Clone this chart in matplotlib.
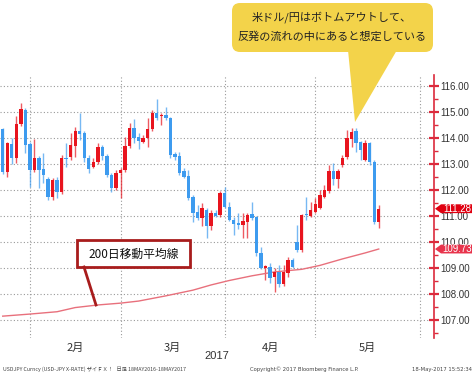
import matplotlib
matplotlib.use('Agg')
import matplotlib.pyplot as plt
from matplotlib.patches import FancyBboxPatch, Polygon, Rectangle
from matplotlib.ticker import MultipleLocator, FixedLocator
from matplotlib.transforms import blended_transform_factory

# daily USD/JPY candles, index = trading day
opens = [114.33, 112.70, 113.77, 113.22, 114.53, 115.08, 113.77, 112.77, 113.22, 112.80,
         112.41, 111.72, 112.38, 111.93, 113.24, 113.28, 113.69, 114.28, 114.18, 113.22,
         112.90, 113.09, 113.67, 113.31, 112.58, 112.09, 112.67, 112.77, 113.69, 114.40,
         114.05, 113.86, 113.99, 114.33, 114.97, 114.86, 114.88, 114.76, 113.37, 113.31,
         112.73, 112.54, 111.72, 111.14, 110.91, 111.23, 110.62, 111.13, 111.04, 111.90,
         111.36, 110.85, 110.74, 110.65, 110.78, 111.08, 110.97, 109.57, 108.99, 109.05,
         108.67, 108.86, 108.38, 108.82, 109.31, 110.01, 109.69, 111.06, 111.00, 111.17,
         111.30, 111.74, 111.96, 112.73, 112.41, 112.96, 113.26, 113.95, 114.28, 113.86,
         113.15, 113.80, 113.09, 110.78]
closes = [112.70, 113.80, 113.22, 114.53, 115.10, 113.73, 112.77, 113.22, 112.77, 112.58,
          111.72, 112.38, 111.93, 113.22, 113.18, 113.73, 114.28, 114.14, 113.22, 112.80,
          113.09, 113.67, 113.31, 112.58, 112.07, 112.67, 112.77, 113.69, 114.40, 113.99,
          113.88, 113.99, 114.33, 114.97, 114.78, 114.90, 114.76, 113.35, 113.28, 112.67,
          112.51, 111.68, 111.13, 110.91, 111.30, 110.62, 111.10, 111.00, 111.90, 111.36,
          110.85, 110.69, 110.65, 110.82, 111.04, 110.91, 109.57, 108.99, 109.08, 108.60,
          108.86, 108.38, 108.86, 109.31, 109.05, 109.69, 111.04, 111.02, 111.23, 111.46,
          111.81, 112.00, 112.74, 112.41, 112.73, 113.24, 113.99, 114.24, 113.82, 113.54,
          113.80, 113.09, 110.78, 111.28]
highs = [114.40, 113.85, 113.99, 114.85, 115.36, 115.15, 113.85, 113.95, 113.30, 113.41,
         112.50, 112.45, 112.50, 113.35, 113.80, 114.18, 114.42, 114.95, 114.25, 113.35,
         113.22, 113.81, 113.73, 113.40, 112.65, 112.75, 112.85, 114.05, 114.57, 114.72,
         114.18, 114.12, 114.76, 115.08, 115.49, 114.97, 115.20, 114.80, 113.45, 113.47,
         112.85, 112.77, 111.80, 111.42, 111.49, 111.30, 111.23, 111.23, 111.95, 112.13,
         111.55, 110.95, 111.12, 111.12, 111.10, 111.55, 111.00, 109.82, 109.12, 109.18,
         109.00, 109.12, 109.12, 109.43, 109.37, 110.65, 111.08, 111.74, 111.55, 111.68,
         112.00, 112.19, 112.96, 113.03, 112.80, 113.35, 114.31, 114.37, 114.37, 113.90,
         113.92, 113.85, 113.15, 111.42]
lows = [112.60, 112.51, 113.00, 113.03, 114.45, 113.43, 112.13, 112.70, 112.07, 112.26,
        111.62, 111.62, 111.68, 111.85, 112.90, 113.15, 113.28, 113.92, 113.09, 112.64,
        112.83, 113.00, 113.15, 112.49, 111.93, 112.00, 111.68, 112.70, 113.60, 113.80,
        113.57, 113.80, 113.64, 114.25, 114.70, 114.50, 114.70, 113.22, 113.15, 112.58,
        112.45, 111.60, 110.78, 110.85, 110.62, 110.14, 110.46, 110.95, 110.98, 111.30,
        110.80, 110.27, 110.50, 110.14, 110.15, 110.85, 109.46, 108.95, 108.54, 108.41,
        108.09, 108.28, 108.30, 108.67, 109.00, 109.62, 109.62, 110.85, 110.95, 111.10,
        111.25, 111.68, 111.90, 112.19, 112.07, 112.90, 113.20, 113.67, 113.47, 113.15,
        113.10, 112.96, 110.70, 110.53]

# 200-day moving average, sampled along the line
ma_days = [0, 6, 12, 16, 21, 26, 30, 36, 42, 46, 50, 55, 60, 66, 70, 75, 80, 83]
ma_vals = [107.15, 107.23, 107.32, 107.48, 107.58, 107.65, 107.73, 107.93, 108.15, 108.35,
           108.52, 108.70, 108.85, 108.95, 109.10, 109.35, 109.58, 109.73]

month_starts = [6, 26, 49, 69, 92]
month_labels = ['2月', '3月', '4月', '5月']
y_ticks = [107, 108, 109, 110, 111, 112, 113, 114, 115, 116]

last_close = closes[-1]
last_ma = ma_vals[-1]

RED = '#e8141e'
BLUE = '#3d9bef'
AXRED = '#dc2a3c'
JP = ['Noto Sans CJK JP', 'DejaVu Sans']

fig = plt.figure(figsize=(4.75, 3.77), dpi=100)
ax = fig.add_axes([0.0, 1 - 338 / 377, 434 / 475, 263 / 377])

days = list(range(len(opens)))
for d, o, c, h, l in zip(days, opens, closes, highs, lows):
    col = RED if c >= o else BLUE
    ax.vlines(d, l, h, color=col, lw=1.0, alpha=0.7, zorder=3)
    body = max(abs(c - o), 0.04)
    ax.bar(d, body, bottom=min(o, c), width=0.75, color=col, zorder=4, linewidth=0)

ax.plot(ma_days, ma_vals, color='#e8707c', lw=1.0, zorder=3)

ax.set_xlim(-0.6, 95.2)
ax.set_ylim(106.31, 116.42)

for m in month_starts:
    ax.axvline(m, color='#999999', lw=0.8, ls=(0, (1, 2)), zorder=1)
for yv in y_ticks:
    ax.axhline(yv, color='#999999', lw=0.8, ls=(0, (1, 2)), zorder=1)

ax.set_xticks([])
xt = blended_transform_factory(ax.transData, ax.transAxes)
for i, lab in enumerate(month_labels):
    mid = (month_starts[i] + month_starts[i + 1]) / 2
    ax.text(mid, -0.038, lab, transform=xt, ha='center', va='center',
            fontsize=8, color='#333333', family=JP)
ax.text(47.3, -0.07, '2017', transform=xt, ha='center', va='center',
        fontsize=8, color='#333333', family=['Liberation Sans'])

ax.yaxis.tick_right()
ax.yaxis.set_major_locator(FixedLocator(y_ticks))
ax.yaxis.set_minor_locator(MultipleLocator(0.5))
ax.set_yticklabels([f'{v:.2f}' for v in y_ticks])
ax.tick_params(axis='y', which='major', direction='inout', length=7, width=1.6,
               color=AXRED, labelsize=7, labelcolor='#333333', pad=1)
ax.tick_params(axis='y', which='minor', direction='out', length=3, width=1,
               color=AXRED)
for lab in ax.get_yticklabels():
    lab.set_family('Liberation Sans')
for s in ['left', 'top', 'bottom']:
    ax.spines[s].set_visible(False)
ax.spines['right'].set_color(AXRED)
ax.spines['right'].set_linewidth(1.2)

# overlay in pixel coords for callouts, tags and footer
ov = fig.add_axes([0, 0, 1, 1], zorder=10)
ov.set_xlim(0, 475)
ov.set_ylim(377, 0)
ov.axis('off')
ov.patch.set_alpha(0)

# price tags on the right axis (positioned through the main axes' y scale)
tt = blended_transform_factory(ax.transAxes, ax.transData)
px = 1 / 434
for val, col in [(last_close, '#e00010'), (last_ma, '#e8344c')]:
    hh = 0.17
    pts = [(1.0 + px, val), (1 + 7 * px, val + hh), (1 + 38 * px, val + hh),
           (1 + 38 * px, val - hh), (1 + 7 * px, val - hh)]
    ov.add_patch(Polygon(pts, closed=True, transform=tt, clip_on=False,
                         facecolor=col, edgecolor='none', zorder=6))
    ov.text(1 + 23 * px, val, f'{val:.2f}', transform=tt, ha='center', va='center',
            color='white', fontsize=7, family='Liberation Sans', zorder=7, clip_on=False)

YEL = '#f3d34a'
ov.add_patch(FancyBboxPatch((232, 3), 201, 49, boxstyle='round,pad=0,rounding_size=8',
                            facecolor=YEL, edgecolor='none'))
ov.add_patch(Polygon([(348, 50), (397, 50), (355, 122)], closed=True,
                     facecolor=YEL, edgecolor='none'))
ov.text(332, 17, '米ドル/円はボトムアウトして、', ha='center', va='center',
        fontsize=8, color='#222222', family=JP)
ov.text(332, 36, '反発の流れの中にあると想定している', ha='center', va='center',
        fontsize=8, color='#222222', family=JP)

BOXRED = '#a81c1c'
ov.plot([84, 96], [267, 305], color=BOXRED, lw=2)
ov.add_patch(Rectangle((77, 240), 113, 27, facecolor='white', edgecolor=BOXRED, lw=2))
ov.text(133.5, 254, '200日移動平均線', ha='center', va='center',
        fontsize=8.5, color='#111111', family=JP)

ov.text(3, 369, 'USDJPY Curncy (USD-JPY X-RATE) ザイＦＸ！   日足 18MAY2016-18MAY2017',
        ha='left', va='center', fontsize=3.8, color='#444444', family=JP)
ov.text(250, 369, 'Copyright© 2017 Bloomberg Finance L.P.', ha='left', va='center',
        fontsize=3.8, color='#444444')
ov.text(472, 369, '18-May-2017 15:52:34', ha='right', va='center',
        fontsize=3.8, color='#444444')

fig.savefig('out.png', dpi=100)
